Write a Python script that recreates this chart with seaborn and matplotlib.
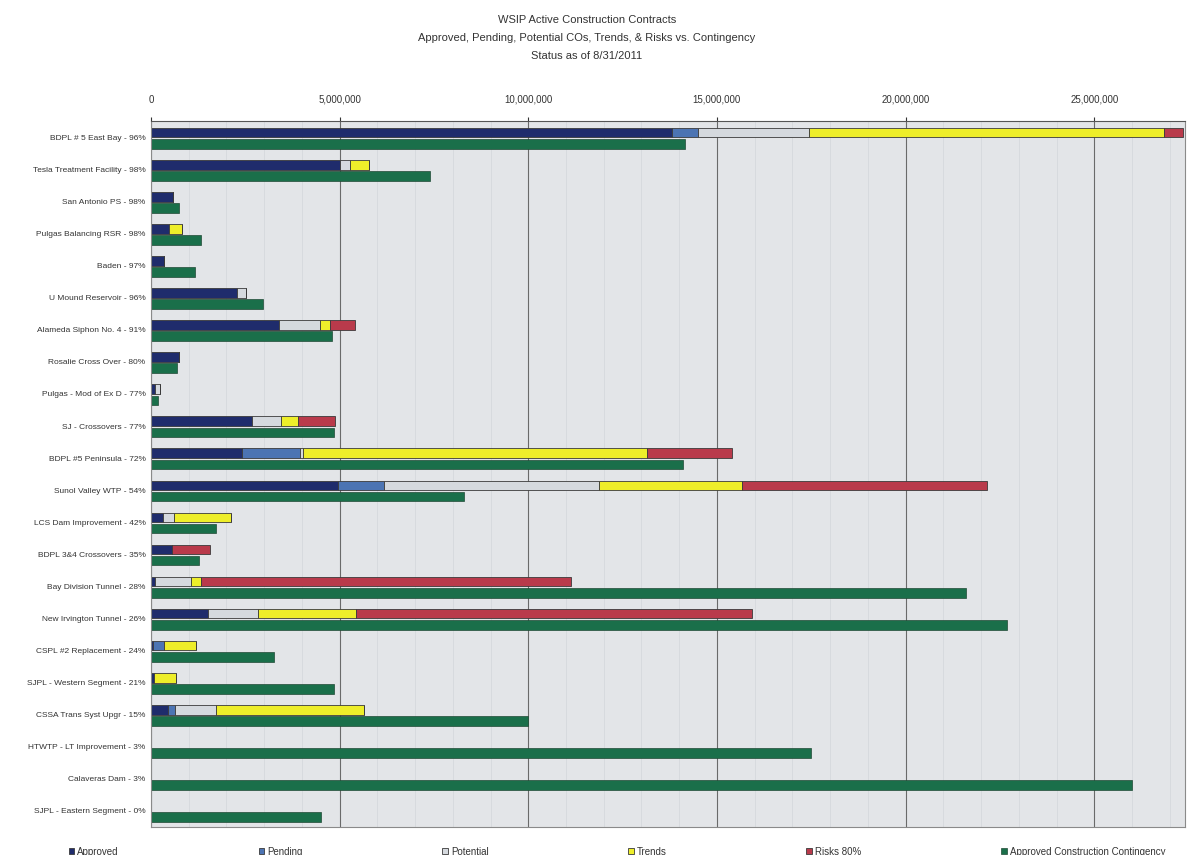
import numpy as np
import pandas as pd
import matplotlib
matplotlib.use("Agg")
import matplotlib.pyplot as plt
import seaborn as sns
from matplotlib.ticker import FuncFormatter, MultipleLocator
from matplotlib.patches import Patch

# contracts, top to bottom
projects = [
    "BDPL # 5 East Bay - 96%", "Tesla Treatment Facility - 98%", "San Antonio PS - 98%",
    "Pulgas Balancing RSR - 98%", "Baden - 97%", "U Mound Reservoir - 96%",
    "Alameda Siphon No. 4 - 91%", "Rosalie Cross Over - 80%", "Pulgas - Mod of Ex D - 77%",
    "SJ - Crossovers - 77%", "BDPL #5 Peninsula - 72%", "Sunol Valley WTP - 54%",
    "LCS Dam Improvement - 42%", "BDPL 3&4 Crossovers - 35%", "Bay Division Tunnel - 28%",
    "New Irvington Tunnel - 26%", "CSPL #2 Replacement - 24%", "SJPL - Western Segment - 21%",
    "CSSA Trans Syst Upgr - 15%", "HTWTP - LT Improvement - 3%", "Calaveras Dam - 3%",
    "SJPL - Eastern Segment - 0%",
]

# dollar amounts (in dollars)
approved = [13_800_000, 5_000_000, 580_000, 480_000, 350_000, 2_280_000,
            3_400_000, 740_000, 100_000, 2_680_000, 2_400_000, 4_970_000,
            320_000, 570_000, 100_000, 1_520_000, 50_000, 80_000,
            450_000, 0, 0, 0]
pending = [700_000, 0, 0, 0, 0, 0,
           0, 0, 0, 0, 1_540_000, 1_200_000,
           0, 0, 0, 0, 300_000, 0,
           200_000, 0, 0, 0]
potential = [2_950_000, 270_000, 0, 0, 0, 240_000,
             1_070_000, 0, 150_000, 760_000, 100_000, 5_700_000,
             300_000, 0, 950_000, 1_330_000, 0, 0,
             1_080_000, 0, 0, 0]
trends = [9_400_000, 500_000, 0, 350_000, 0, 0,
          280_000, 0, 0, 450_000, 9_100_000, 3_800_000,
          1_500_000, 0, 270_000, 2_580_000, 850_000, 580_000,
          3_920_000, 0, 0, 0]
risks = [500_000, 0, 0, 0, 0, 0,
         670_000, 0, 0, 980_000, 2_250_000, 6_500_000,
         0, 1_000_000, 9_800_000, 10_500_000, 0, 0,
         0, 0, 0, 0]
contingency = [14_150_000, 7_400_000, 740_000, 1_330_000, 1_170_000, 2_970_000,
               4_800_000, 690_000, 200_000, 4_850_000, 14_100_000, 8_300_000,
               1_730_000, 1_280_000, 21_600_000, 22_700_000, 3_250_000, 4_850_000,
               10_000_000, 17_500_000, 26_000_000, 4_500_000]

seg_names = ["Approved", "Pending", "Potential", "Trends", "Risks 80%"]
seg_values = [approved, pending, potential, trends, risks]
seg_colors = ["#1f2c6c", "#4c74b3", "#d5d9de", "#eeee2a", "#b93a4b"]
cont_color = "#1a6f4a"

sns.set_style("white")
plt.rcParams["font.family"] = ["Liberation Sans", "DejaVu Sans"]

fig, ax = plt.subplots(figsize=(11.98, 8.55), dpi=100)
fig.subplots_adjust(left=0.126, right=0.989, top=0.858, bottom=0.033)
ax.set_facecolor("#e3e5e8")

idx = np.arange(len(projects))
bar_h = 0.3
left = np.zeros(len(projects))
for name, vals, col in zip(seg_names, seg_values, seg_colors):
    vals = np.array(vals, dtype=float)
    sns.barplot(x=vals, y=idx - 0.15, orient="y", native_scale=True, left=left,
                color=col, saturation=1, width=bar_h, errorbar=None,
                edgecolor="#3a3a3a", linewidth=0.6, ax=ax)
    left = left + vals

sns.barplot(x=np.array(contingency, dtype=float), y=idx + 0.2, orient="y",
            native_scale=True, color=cont_color, saturation=1, width=bar_h,
            errorbar=None, edgecolor="#204a35", linewidth=0.5, ax=ax)

ax.set_xlim(0, 27_400_000)
ax.set_ylim(len(projects) - 0.5, -0.5)
ax.set_yticks(idx)
ax.set_yticklabels(projects, fontsize=6, color="#333333")
ax.set_ylabel("")
ax.set_xlabel("")

ax.xaxis.tick_top()
ax.xaxis.set_major_locator(MultipleLocator(5_000_000))
ax.xaxis.set_minor_locator(MultipleLocator(1_000_000))
ax.xaxis.set_major_formatter(FuncFormatter(lambda v, p: f"{int(v):,}"))
ax.tick_params(axis="x", which="major", labelsize=7, colors="#333333", length=3, pad=9)
ax.tick_params(axis="x", which="minor", length=0)
ax.tick_params(axis="y", length=0, pad=4)
ax.grid(axis="x", which="major", color="#6a6a6a", linewidth=0.8)
ax.grid(axis="x", which="minor", color="#d3d6da", linewidth=0.5)
ax.set_axisbelow(True)
for s in ax.spines.values():
    s.set_color("#8a8a8a")
    s.set_linewidth(0.8)
ax.spines["top"].set_color("#555555")

fig.text(0.49, 0.983, "WSIP Active Construction Contracts\n"
         "Approved, Pending, Potential COs, Trends, & Risks vs. Contingency\n"
         "Status as of 8/31/2011",
         ha="center", va="top", fontsize=8, color="#333333", linespacing=2.0)

handles = [Patch(facecolor=c, edgecolor="#3a3a3a", linewidth=0.6, label=n)
           for n, c in zip(seg_names, seg_colors)]
handles.append(Patch(facecolor=cont_color, edgecolor="#204a35", linewidth=0.5,
                     label="Approved Construction Contingency"))
fig.legend(handles=handles, loc="lower left", bbox_to_anchor=(0.05, -0.012, 0.93, 0.03),
           mode="expand", ncol=6, frameon=False, fontsize=7, handlelength=0.6,
           handleheight=0.6, handletextpad=0.3, labelcolor="#333333")

fig.savefig("out.png", dpi=100, facecolor="white")
